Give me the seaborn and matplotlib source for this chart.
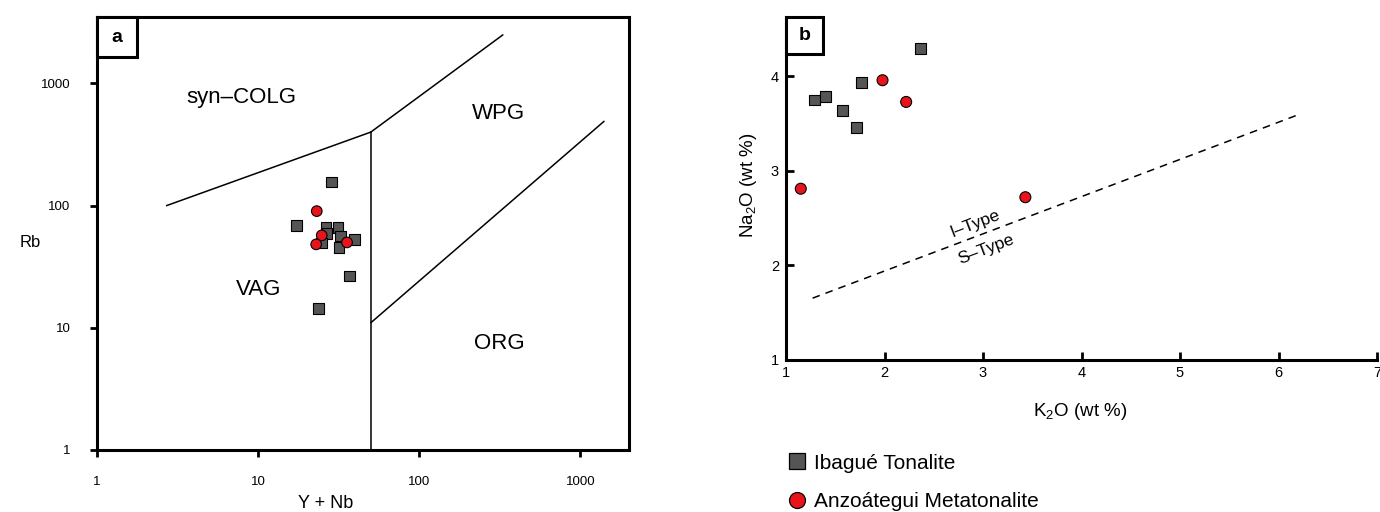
import matplotlib
matplotlib.use("Agg")
import matplotlib.pyplot as plt
import seaborn as sns
import pandas as pd
from matplotlib.lines import Line2D
from matplotlib.patches import Rectangle

# --- Rb vs Y+Nb discrimination data (ppm) ---
ibague_ynb = [28.6, 17.3, 26.4, 26.8, 24.7, 31.3, 32.5, 39.7, 31.8, 36.8, 23.7]
ibague_rb = [155.6, 68.9, 66.0, 59.3, 49.4, 66.4, 56.3, 52.7, 45.3, 26.5, 14.4]
anzo_ynb = [23.1, 24.8, 22.9, 35.6]
anzo_rb = [90.2, 57.1, 48.2, 50.0]

# --- Na2O vs K2O data (wt %) ---
ibague_k2o = [2.37, 1.29, 1.40, 1.57, 1.72, 1.77]
ibague_na2o = [4.30, 3.75, 3.79, 3.64, 3.46, 3.94]
anzo_k2o = [1.98, 2.22, 1.15, 3.43]
anzo_na2o = [3.96, 3.73, 2.81, 2.72]

# Field boundaries (Pearce et al. 1984) and I/S-type divide
syncolg_vag_x = [2.7, 50]
syncolg_vag_y = [100, 400]
vag_wpg_x = [50, 50]
vag_wpg_y = [1, 400]
wpg_syncolg_x = [50, 330]
wpg_syncolg_y = [400, 2500]
org_wpg_x = [50, 1400]
org_wpg_y = [11, 490]
is_type_x = [1.27, 6.19]
is_type_y = [1.65, 3.59]

groups = ["Ibagué Tonalite", "Anzoátegui Metatonalite"]
markers = {"Ibagué Tonalite": "s", "Anzoátegui Metatonalite": "o"}
colors = {"Ibagué Tonalite": "#555555", "Anzoátegui Metatonalite": "#e8141c"}

df_a = pd.DataFrame({
    "ynb": ibague_ynb + anzo_ynb,
    "rb": ibague_rb + anzo_rb,
    "group": [groups[0]] * len(ibague_ynb) + [groups[1]] * len(anzo_ynb),
})
df_b = pd.DataFrame({
    "k2o": ibague_k2o + anzo_k2o,
    "na2o": ibague_na2o + anzo_na2o,
    "group": [groups[0]] * len(ibague_k2o) + [groups[1]] * len(anzo_k2o),
})

sns.set_style("ticks")
plt.rcParams["font.family"] = ["Liberation Sans", "DejaVu Sans"]
plt.rcParams["mathtext.fontset"] = "custom"
plt.rcParams["mathtext.rm"] = "Liberation Sans"
plt.rcParams["mathtext.it"] = "Liberation Sans:italic"
for key in ["text.color", "axes.labelcolor", "xtick.color", "ytick.color",
            "axes.edgecolor"]:
    plt.rcParams[key] = "black"

fig = plt.figure(figsize=(13.8, 5.12), dpi=100)
W, H = 1380, 512

def axes_px(l, t, r, b):
    return fig.add_axes([l / W, 1 - b / H, (r - l) / W, (b - t) / H])

# ---------------- Panel a ----------------
ax = axes_px(97, 17, 629, 450)
ax.set_xscale("log")
ax.set_yscale("log")
ax.set_xlim(1, 2000)
ax.set_ylim(1, 3500)

lw_b = 1.1
for xs, ys in [(syncolg_vag_x, syncolg_vag_y), (vag_wpg_x, vag_wpg_y),
               (wpg_syncolg_x, wpg_syncolg_y), (org_wpg_x, org_wpg_y)]:
    ax.plot(xs, ys, color="black", lw=lw_b, zorder=1)

sns.scatterplot(data=df_a, x="ynb", y="rb", hue="group", style="group",
                markers=markers, palette=colors, s=58, edgecolor="black",
                linewidth=0.8, legend=False, ax=ax, zorder=3)

ax.text(3.6, 765, "syn–COLG", fontsize=16, ha="left", va="center")
ax.text(311, 567, "WPG", fontsize=16, ha="center", va="center")
ax.text(10, 20.7, "VAG", fontsize=16, ha="center", va="center")
ax.text(315, 7.5, "ORG", fontsize=16, ha="center", va="center")

ax.set_xticks([1, 10, 100, 1000])
ax.set_xticklabels(["1", "10", "100", "1000"])
ax.set_yticks([1, 10, 100, 1000])
ax.set_yticklabels(["1", "10", "100", "1000"])
ax.minorticks_off()
ax.tick_params(axis="both", direction="out", length=5, width=2,
               labelsize=9.5, pad=14)
for sp in ax.spines.values():
    sp.set_linewidth(2.2)
    sp.set_visible(True)
ax.set_xlabel("Y + Nb", fontsize=13)
ax.xaxis.set_label_coords(0.43, -0.105)
ax.set_ylabel("Rb", fontsize=12, rotation=0, va="center", ha="center")
ax.yaxis.set_label_coords(-0.125, 0.48)

ax.add_patch(Rectangle((0, 1 - 40 / 433), 40 / 532, 40 / 433,
                       transform=ax.transAxes, facecolor="white",
                       edgecolor="black", lw=2.2, zorder=5, clip_on=False))
ax.text(20 / 532, 1 - 20 / 433, "a", transform=ax.transAxes, fontsize=14,
        fontweight="bold", ha="center", va="center", zorder=6)

# ---------------- Panel b ----------------
bx = axes_px(786, 17, 1377, 359.5)
bx.set_xlim(1, 7)
bx.set_ylim(1, 4.63)
bx.plot(is_type_x, is_type_y, color="black", lw=1.1, ls=(0, (5, 4)), zorder=1)

sns.scatterplot(data=df_b, x="k2o", y="na2o", hue="group", style="group",
                markers=markers, palette=colors, s=62, edgecolor="black",
                linewidth=0.8, legend=False, ax=bx, zorder=3)

bx.text(2.92, 2.44, "I–Type", fontsize=12.5, rotation=21, ha="center",
        va="center", rotation_mode="anchor")
bx.text(3.03, 2.17, "S–Type", fontsize=12.5, rotation=21, ha="center",
        va="center", rotation_mode="anchor")

bx.set_xticks([1, 2, 3, 4, 5, 6, 7])
bx.set_yticks([1, 2, 3, 4])
bx.tick_params(axis="both", direction="in", length=6, width=2,
               labelsize=10.5, pad=5)
for side in ["top", "right"]:
    bx.spines[side].set_visible(False)
for side in ["left", "bottom"]:
    bx.spines[side].set_linewidth(2.2)
bx.set_xlabel("K$_2$O (wt %)", fontsize=13.5)
bx.xaxis.set_label_coords(0.498, -0.12)
bx.set_ylabel("Na$_2$O (wt %)", fontsize=13.5)
bx.yaxis.set_label_coords(-0.045, 0.51)

bx.add_patch(Rectangle((0, 1 - 37 / 342.5), 37 / 591, 37 / 342.5,
                       transform=bx.transAxes, facecolor="white",
                       edgecolor="black", lw=2.2, zorder=5, clip_on=False))
bx.text(18.5 / 591, 1 - 18.5 / 342.5, "b", transform=bx.transAxes,
        fontsize=14, fontweight="bold", ha="center", va="center", zorder=6)

# ---------------- Legend ----------------
handles = [Line2D([], [], ls="none", marker=markers[g], color=colors[g],
                  markeredgecolor="black", markeredgewidth=0.9,
                  markersize=11.5) for g in groups]
fig.legend(handles, groups, loc="upper left",
           bbox_to_anchor=(772 / W, 1 - 439 / H), frameon=False,
           fontsize=15, handlelength=1.0, handletextpad=0.32,
           labelspacing=0.95, borderpad=0.2)

fig.savefig("out.png", dpi=100)
